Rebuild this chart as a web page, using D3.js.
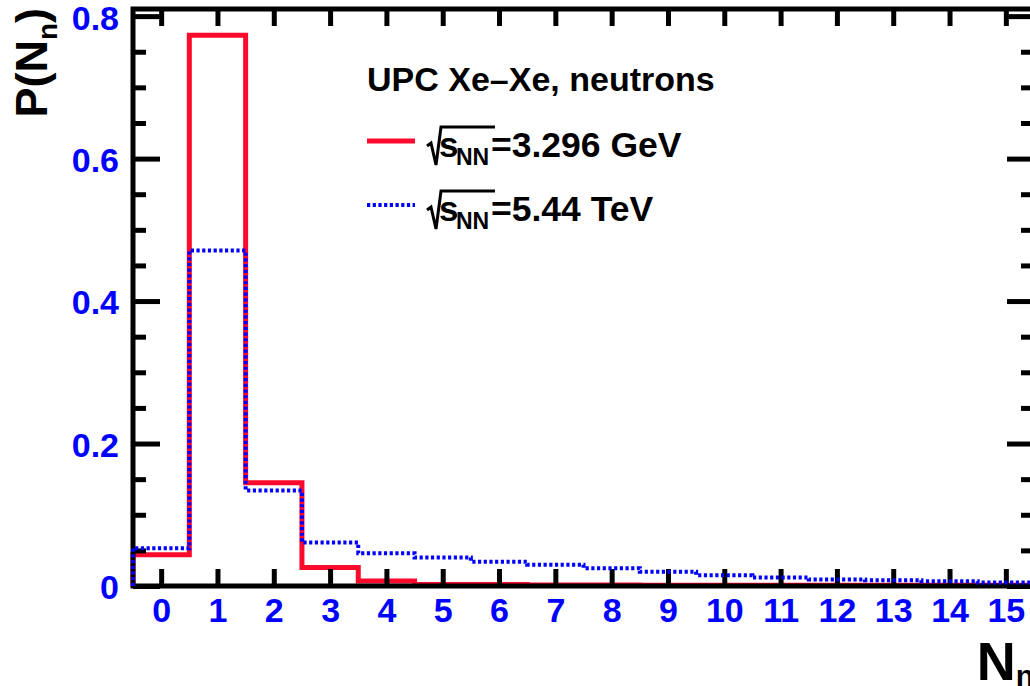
<!DOCTYPE html>
<html>
<head>
<meta charset="utf-8">
<script src="https://cdn.jsdelivr.net/npm/d3@7"></script>
<style>
    body { margin: 0; background: #fff; overflow: hidden; }
    svg { display: block; font-family: "Liberation Sans", Arial, Helvetica, sans-serif; font-weight: bold; }
</style>
</head>
<body>
<svg id="chart" width="1030" height="686"></svg>
<script>
// neutron multiplicity bins
const nBins = [0, 1, 2, 3, 4, 5, 6, 7, 8, 9, 10, 11, 12, 13, 14, 15];
// P(Nn) at sqrt(sNN) = 3.296 GeV
const pLowEnergy = [0.044, 0.773, 0.145, 0.026, 0.007, 0.002, 0.002, 0.0015, 0.0015, 0.001, 0.001, 0.001, 0.001, 0.001, 0.001, 0.001];
// P(Nn) at sqrt(sNN) = 5.44 TeV
const pHighEnergy = [0.053, 0.471, 0.134, 0.061, 0.046, 0.040, 0.034, 0.030, 0.025, 0.020, 0.015, 0.012, 0.009, 0.008, 0.0067, 0.0048];

const yMajorTicks = [0, 0.2, 0.4, 0.6, 0.8];
const yTickLabels = ["0", "0.2", "0.4", "0.6", "0.8"];
const yMinorTicks = [0.05, 0.1, 0.15, 0.25, 0.3, 0.35, 0.45, 0.5, 0.55, 0.65, 0.7, 0.75];

const legendHeader = "UPC Xe\u2013Xe, neutrons";
const legendLabels = ["=3.296 GeV", "=5.44 TeV"];

const RED = "#fa0a2c";
const BLUE = "#0000ff";

const svg = d3.select("#chart");

// frame in pixels
const frameLeft = 133, frameRight = 1034, frameTop = 9, frameBottom = 586;

const x = d3.scaleLinear().domain([-0.5, 15.5]).range([frameLeft, frameRight]);
const y = d3.scaleLinear().domain([0, 0.81]).range([frameBottom, frameTop]);

// histogram outline: up from 0 at left edge, steps, down at right edge
function stepPoints(values) {
    const pts = [[nBins[0] - 0.5, 0]];
    values.forEach((v, i) => {
        pts.push([nBins[i] - 0.5, v]);
        pts.push([nBins[i] + 0.5, v]);
    });
    pts.push([nBins[nBins.length - 1] + 0.5, 0]);
    return pts;
}

const line = d3.line()
    .x(d => x(d[0]))
    .y(d => y(d[1]));

// red histogram first (axes get drawn over it)
svg.append("path")
    .datum(stepPoints(pLowEnergy))
    .attr("fill", "none")
    .attr("stroke", RED)
    .attr("stroke-width", 5)
    .attr("d", line);

// axes, ROOT style inward ticks
function styleAxis(sel) {
    sel.select(".domain").remove();
    sel.selectAll("line").attr("stroke", "#000").attr("stroke-width", 5);
    sel.selectAll("text")
        .attr("fill", BLUE)
        .style("font-size", "34px")
        .style("font-weight", "bold")
        .style("font-family", "'Liberation Sans', Arial, Helvetica, sans-serif");
}

svg.append("g")
    .attr("transform", `translate(0,${frameBottom})`)
    .call(d3.axisBottom(x).tickValues(nBins).tickSizeInner(-17).tickSizeOuter(0).tickPadding(12))
    .call(styleAxis);

svg.append("g")
    .attr("transform", `translate(0,${frameTop})`)
    .call(d3.axisTop(x).tickValues(nBins).tickSizeInner(-17).tickSizeOuter(0).tickFormat(""))
    .call(styleAxis);

svg.append("g")
    .attr("transform", `translate(${frameLeft},0)`)
    .call(d3.axisLeft(y).tickValues(yMajorTicks).tickSizeInner(-27).tickSizeOuter(0).tickPadding(14)
        .tickFormat((d, i) => yTickLabels[i]))
    .call(styleAxis)
    .call(g => g.selectAll("text").attr("dy", "0.38em"));

svg.append("g")
    .attr("transform", `translate(${frameLeft},0)`)
    .call(d3.axisLeft(y).tickValues(yMinorTicks).tickSizeInner(-13).tickSizeOuter(0).tickFormat(""))
    .call(styleAxis);

svg.append("g")
    .attr("transform", `translate(${frameRight},0)`)
    .call(d3.axisRight(y).tickValues(yMajorTicks).tickSizeInner(-27).tickSizeOuter(0).tickFormat(""))
    .call(styleAxis);

svg.append("g")
    .attr("transform", `translate(${frameRight},0)`)
    .call(d3.axisRight(y).tickValues(yMinorTicks).tickSizeInner(-13).tickSizeOuter(0).tickFormat(""))
    .call(styleAxis);

svg.append("rect")
    .attr("x", frameLeft)
    .attr("y", frameTop)
    .attr("width", frameRight - frameLeft)
    .attr("height", frameBottom - frameTop)
    .attr("fill", "none")
    .attr("stroke", "#000")
    .attr("stroke-width", 5);

// blue dotted histogram on top
svg.append("path")
    .datum(stepPoints(pHighEnergy))
    .attr("fill", "none")
    .attr("stroke", BLUE)
    .attr("stroke-width", 4)
    .attr("stroke-dasharray", "3.2,2.5")
    .attr("d", line);

// axis titles
const yTitle = svg.append("text")
    .attr("transform", "translate(47,8) rotate(-90)")
    .attr("text-anchor", "end")
    .attr("fill", "#000")
    .style("font-size", "45px");
yTitle.append("tspan").text("P(N");
yTitle.append("tspan").attr("dy", 10).style("font-size", "28px").text("n");
yTitle.append("tspan").attr("dy", -10).text(")");

const xTitle = svg.append("text")
    .attr("x", frameRight)
    .attr("y", 680)
    .attr("text-anchor", "end")
    .attr("fill", "#000")
    .style("font-size", "54px");
xTitle.append("tspan").text("N");
xTitle.append("tspan").attr("dy", 6).style("font-size", "30px").text("n");

// legend
const lx = 367;
svg.append("text")
    .attr("x", lx)
    .attr("y", 91)
    .attr("fill", "#000")
    .style("font-size", "34px")
    .text(legendHeader);

const entryY = [141, 205];
const entryStyle = [
    { stroke: RED, width: 5, dash: null },
    { stroke: BLUE, width: 4, dash: "3.2,2.5" }
];

legendLabels.forEach((label, i) => {
    const ly = entryY[i];
    const st = entryStyle[i];
    svg.append("line")
        .attr("x1", lx).attr("x2", lx + 48)
        .attr("y1", ly).attr("y2", ly)
        .attr("stroke", st.stroke)
        .attr("stroke-width", st.width)
        .attr("stroke-dasharray", st.dash);

    const b = ly + 16;     // text baseline
    const x0 = lx + 60;    // radical start
    const p = d3.path();
    p.moveTo(x0, b - 11);
    p.lineTo(x0 + 4, b - 14);
    p.lineTo(x0 + 9, b + 8);
    p.lineTo(x0 + 14, b - 30);
    p.lineTo(x0 + 68, b - 30);
    svg.append("path")
        .attr("d", p.toString())
        .attr("fill", "none")
        .attr("stroke", "#000")
        .attr("stroke-width", 3)
        .attr("stroke-linejoin", "miter");

    svg.append("text")
        .attr("x", x0 + 12).attr("y", b)
        .attr("fill", "#000")
        .style("font-size", "35px")
        .text("s");
    svg.append("text")
        .attr("x", x0 + 29).attr("y", b + 8)
        .attr("fill", "#000")
        .style("font-size", "23px")
        .text("NN");
    svg.append("text")
        .attr("x", x0 + 64).attr("y", b)
        .attr("fill", "#000")
        .style("font-size", "35.5px")
        .text(label);
});
</script>
</body>
</html>
